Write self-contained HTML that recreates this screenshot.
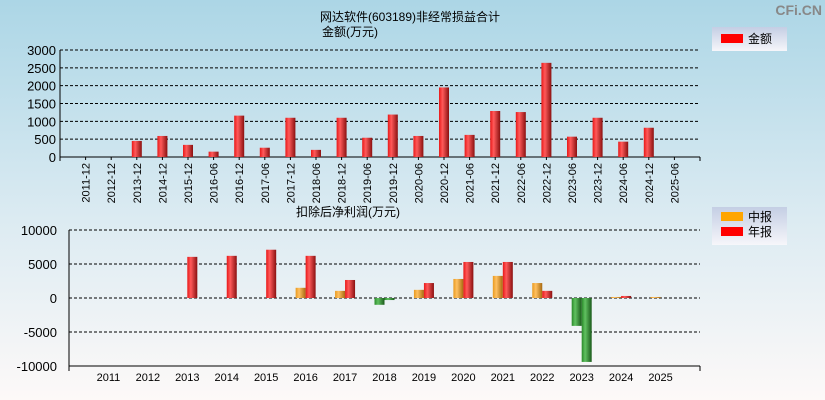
<!DOCTYPE html>
<html><head><meta charset="utf-8"><style>
body{margin:0;width:825px;height:400px;overflow:hidden;}
svg{display:block;font-family:"Liberation Sans","Noto Sans CJK SC",sans-serif;}
</style></head><body>
<svg id="c" width="825" height="400" xmlns="http://www.w3.org/2000/svg">
<defs>
<linearGradient id="bg" x1="0" y1="0" x2="0" y2="1"><stop offset="0" stop-color="#acd6e6"/><stop offset="0.55" stop-color="#dcebf2"/><stop offset="1" stop-color="#fdf9f8"/></linearGradient>
<linearGradient id="red" x1="0" y1="0" x2="1" y2="0"><stop offset="0" stop-color="#e81818"/><stop offset="0.35" stop-color="#ff5a5a"/><stop offset="1" stop-color="#8a1010"/></linearGradient>
<linearGradient id="org" x1="0" y1="0" x2="1" y2="0"><stop offset="0" stop-color="#e89a20"/><stop offset="0.35" stop-color="#ffc060"/><stop offset="1" stop-color="#a86a10"/></linearGradient>
<linearGradient id="grn" x1="0" y1="0" x2="1" y2="0"><stop offset="0" stop-color="#2a8a2a"/><stop offset="0.35" stop-color="#60c060"/><stop offset="1" stop-color="#1a5a1a"/></linearGradient>
<linearGradient id="lg" x1="0" y1="0" x2="0" y2="1"><stop offset="0" stop-color="#c4cee4"/><stop offset="1" stop-color="#f6f6fa"/></linearGradient>
</defs>
<rect width="825" height="400" fill="url(#bg)"/>
<text x="410" y="21" font-size="12" text-anchor="middle">网达软件(603189)非经常损益合计</text>
<text x="322" y="36" font-size="12">金额(万元)</text>
<text x="822" y="15" font-size="14" font-weight="bold" fill="#888" text-anchor="end">CFi.CN</text>
<g>
<rect x="712" y="27" width="75" height="24" fill="url(#lg)"/>
<rect x="721" y="34" width="22" height="9" fill="#f00"/>
<text x="748" y="43" font-size="12">金额</text>
</g>
<g>
<rect x="712" y="207" width="75" height="38" fill="url(#lg)"/>
<rect x="721" y="212" width="22" height="9" fill="#ffa500"/>
<text x="748" y="221" font-size="12">中报</text>
<rect x="721" y="227" width="22" height="9" fill="#f00"/>
<text x="748" y="236" font-size="12">年报</text>
</g>
<text x="348" y="216" font-size="12" text-anchor="middle">扣除后净利润(万元)</text>
<g id="top"></g><g id="bot"></g>
</svg>
<script>
const topCats=["2011-12","2012-12","2013-12","2014-12","2015-12","2016-06","2016-12","2017-06","2017-12","2018-06","2018-12","2019-06","2019-12","2020-06","2020-12","2021-06","2021-12","2022-06","2022-12","2023-06","2023-12","2024-06","2024-12","2025-06"];
const topVals=[0,0,450,590,340,150,1160,260,1100,200,1100,540,1190,590,1950,620,1290,1260,2640,570,1100,430,820,0];
const topTicks=[0,500,1000,1500,2000,2500,3000];
const years=["2011","2012","2013","2014","2015","2016","2017","2018","2019","2020","2021","2022","2023","2024","2025"];
const midVals=[null,null,null,null,null,1500,1050,-1000,1200,2800,3250,2200,-4100,150,150];
const annVals=[null,null,6050,6200,7100,6200,2650,-300,2200,5300,5300,1050,-9400,300,null];
const botTicks=[-10000,-5000,0,5000,10000];
const NS="http://www.w3.org/2000/svg";
function mk(p,tag,a,txt){const e=document.createElementNS(NS,tag);for(const k in a)e.setAttribute(k,a[k]);if(txt!=null)e.textContent=txt;p.appendChild(e);return e;}
// top chart
const T=document.getElementById('top');
const tx0=60,tx1=700,ty0=157,ty1=50,tmax=3000;
const tslot=(tx1-tx0)/25;
const tX=i=>tx0+tslot*(i+1);
const tY=v=>ty0-(v/tmax)*(ty0-ty1);
topTicks.forEach(v=>{
 if(v>0){const g=mk(T,'line',{x1:tx0,x2:tx1,y1:tY(v),y2:tY(v),stroke:'#000','stroke-dasharray':'3,2','stroke-width':1});
 
 }
 const t=mk(T,'text',{x:tx0-4,y:tY(v)+5,'font-size':13,'text-anchor':'end'},String(v));
 
 
});
mk(T,'line',{x1:tx0,x2:tx0,y1:ty1,y2:ty0+4,stroke:'#000'});
mk(T,'line',{x1:tx0,x2:tx1,y1:ty0,y2:ty0,stroke:'#000'});
mk(T,'line',{x1:tx1,x2:tx1,y1:ty0,y2:ty0+4,stroke:'#000'});
topCats.forEach((c,i)=>{
 const x=tX(i);
 mk(T,'line',{x1:x,x2:x,y1:ty0,y2:ty0+3,stroke:'#000'});
 const t=mk(T,'text',{x:0,y:0,'font-size':11,'text-anchor':'end',transform:`translate(${x+4},${ty0+6}) rotate(-90)`},c);
 
 
 const v=topVals[i];
 if(v>0){const r=mk(T,'rect',{x:x-5,y:tY(v),width:10,height:ty0-tY(v),fill:'url(#red)'});
 
 }
});
// bottom chart
const B=document.getElementById('bot');
const bx0=69,bx1=700,by0=298,bytop=230,bmax=10000;
const bslot=(bx1-bx0)/16;
const bX=i=>bx0+bslot*(i+1);
const bY=v=>by0-(v/bmax)*(by0-bytop);
botTicks.forEach(v=>{
 const g=mk(B,'line',{x1:bx0,x2:bx1,y1:bY(v),y2:bY(v),stroke:'#000','stroke-dasharray':'3,2'});
 
 
 const t=mk(B,'text',{x:bx0-12,y:bY(v)+5,'font-size':13,'text-anchor':'end'},String(v));
 
 
});
mk(B,'line',{x1:bx0,x2:bx0,y1:bytop,y2:bY(-10000)+5,stroke:'#000'});
mk(B,'line',{x1:bx0,x2:bx1,y1:bY(-10000),y2:bY(-10000),stroke:'#000'});
mk(B,'line',{x1:bx1,x2:bx1,y1:bY(-10000),y2:bY(-10000)+5,stroke:'#000'});
function bar(v,x,fill,name){
 if(v==null)return;
 const y=v>=0?bY(v):by0, h=Math.abs(bY(v)-by0);
 const r=mk(B,'rect',{x:x,y:y,width:10,height:Math.max(h,0.5),fill:v<0?'url(#grn)':fill});
 
 
}
years.forEach((yr,i)=>{
 const x=bX(i);
 const t=mk(B,'text',{x:x,y:381,'font-size':11,'text-anchor':'middle'},yr);
 
 
 bar(midVals[i],x-10,'url(#org)','bar-mid-'+yr);
 bar(annVals[i],x,'url(#red)','bar-annual-'+yr);
});
</script>
</body></html>
